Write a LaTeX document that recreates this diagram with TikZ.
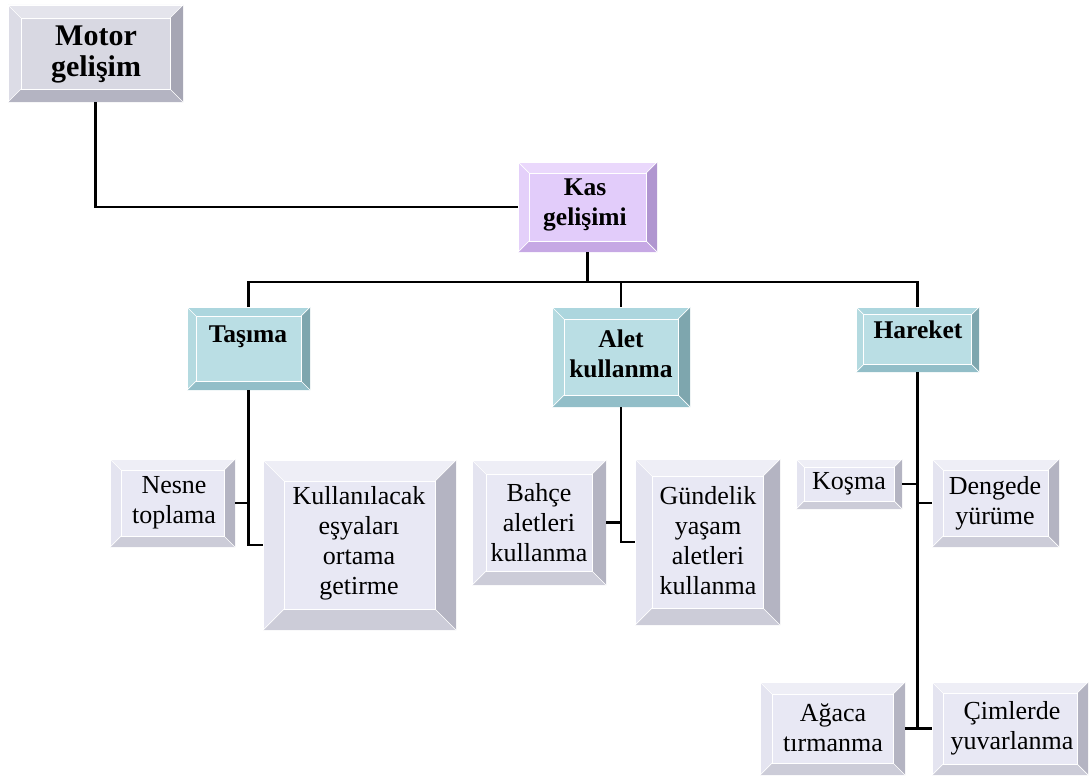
\documentclass[tikz,border=0pt]{standalone}
\usepackage{fontspec}
\setmainfont{Liberation Serif}
\usetikzlibrary{calc}
% grey (Motor)
\definecolor{gF}{RGB}{216,216,226}
\definecolor{gT}{RGB}{228,228,236}
\definecolor{gL}{RGB}{220,220,230}
\definecolor{gR}{RGB}{166,166,180}
\definecolor{gB}{RGB}{180,180,194}
% light
\definecolor{lF}{RGB}{232,232,244}
\definecolor{lT}{RGB}{238,238,246}
\definecolor{lL}{RGB}{228,228,240}
\definecolor{lR}{RGB}{180,180,194}
\definecolor{lB}{RGB}{204,204,216}
% purple
\definecolor{pF}{RGB}{226,204,250}
\definecolor{pT}{RGB}{234,216,252}
\definecolor{pL}{RGB}{228,208,250}
\definecolor{pR}{RGB}{176,150,208}
\definecolor{pB}{RGB}{198,168,228}
% teal
\definecolor{tF}{RGB}{186,222,228}
\definecolor{tT}{RGB}{172,214,222}
\definecolor{tL}{RGB}{180,218,224}
\definecolor{tR}{RGB}{126,166,174}
\definecolor{tB}{RGB}{146,190,200}
\tikzset{
  boxshape/.style={rectangle, inner sep=0pt, outer sep=0pt, draw=none},
  txt/.style={align=center, inner sep=0pt, font=\fontsize{26}{30}\selectfont},
  btxt/.style={align=center, inner sep=0pt, font=\fontsize{25.5}{30}\selectfont\bfseries},
  conn/.style={draw=black, line width=2.2pt},
  edge/.style={draw=white, line width=0.7pt},
}
\newcommand\bevelbox[7]{%
  \node[boxshape, minimum width=#4pt, minimum height=#5pt] (#1) at (#2,#3) {};
  \fill[#7T] (#1.north west) -- (#1.north east) -- ([shift={(-#6pt,-#6pt)}]#1.north east) -- ([shift={(#6pt,-#6pt)}]#1.north west) -- cycle;
  \fill[#7L] (#1.north west) -- ([shift={(#6pt,-#6pt)}]#1.north west) -- ([shift={(#6pt,#6pt)}]#1.south west) -- (#1.south west) -- cycle;
  \fill[#7R] (#1.north east) -- (#1.south east) -- ([shift={(-#6pt,#6pt)}]#1.south east) -- ([shift={(-#6pt,-#6pt)}]#1.north east) -- cycle;
  \fill[#7B] (#1.south west) -- (#1.south east) -- ([shift={(-#6pt,#6pt)}]#1.south east) -- ([shift={(#6pt,#6pt)}]#1.south west) -- cycle;
  \fill[#7F] ([shift={(#6pt,-#6pt)}]#1.north west) rectangle ([shift={(-#6pt,#6pt)}]#1.south east);
  \draw[edge] ([shift={(#6pt,-#6pt)}]#1.north west) rectangle ([shift={(-#6pt,#6pt)}]#1.south east);
  \draw[edge] (#1.north west) -- ([shift={(#6pt,-#6pt)}]#1.north west);
  \draw[edge] (#1.north east) -- ([shift={(-#6pt,-#6pt)}]#1.north east);
  \draw[edge] (#1.south west) -- ([shift={(#6pt,#6pt)}]#1.south west);
  \draw[edge] (#1.south east) -- ([shift={(-#6pt,#6pt)}]#1.south east);
  \draw[edge] (#1.south west) -- (#1.north west) -- (#1.north east);
}
\begin{document}
\begin{tikzpicture}[x=1pt, y=-1pt]
\useasboundingbox (0,0) rectangle (1089,776);
% boxes: name, cx, cy, w, h, bevel, scheme
\bevelbox{motor}{95.5}{53.5}{175}{97}{13}{g}
\bevelbox{kas}{587.5}{207}{139}{90}{11}{p}
\bevelbox{tasima}{248.5}{348.5}{123}{83}{9}{t}
\bevelbox{alet}{621}{357}{138}{100}{12}{t}
\bevelbox{hareket}{917.5}{339.5}{123}{65}{7.5}{t}
\bevelbox{nesne}{172.5}{503}{125}{88}{11}{l}
\bevelbox{kull}{359.5}{545}{193}{170}{21}{l}
\bevelbox{bahce}{539}{522.5}{134}{125}{14}{l}
\bevelbox{gund}{707.5}{542}{145}{166}{17}{l}
\bevelbox{kosma}{849}{484}{106}{50}{8}{l}
\bevelbox{dengede}{995.5}{503}{127}{88}{11}{l}
\bevelbox{agaca}{832.5}{728.5}{145}{93}{12}{l}
\bevelbox{cim}{1010}{728.5}{156}{93}{11}{l}
% texts
\node[btxt, font=\fontsize{30}{31}\selectfont\bfseries] (motor-t) at (96,54) {Motor\\gelişim};
\node[btxt] (kas-t) at (585,205) {Kas\\gelişimi};
\node[btxt] (tasima-t) at (248,337) {Taşıma};
\node[btxt] (alet-t) at (621,354) {Alet\\kullanma};
\node[btxt] (hareket-t) at (918,330) {Hareket};
\node[txt] (nesne-t) at (174,503) {Nesne\\toplama};
\node[txt] (kull-t) at (359,543) {Kullanılacak\\eşyaları\\ortama\\getirme};
\node[txt] (bahce-t) at (539,523) {Bahçe\\aletleri\\kullanma};
\node[txt] (gund-t) at (708,541) {Gündelik\\yaşam\\aletleri\\kullanma};
\node[txt] (kosma-t) at (849,484) {Koşma};
\node[txt] (dengede-t) at (995,503) {Dengede\\yürüme};
\node[txt] (agaca-t) at (833,728) {Ağaca\\tırmanma};
\node[txt] (cim-t) at (1012,728) {Çimlerde\\yuvarlanma};
% connectors
\coordinate (kb) at (587.5,282);
\draw[conn] (motor.south) |- (kas.west);
\draw[conn] (kas.south) -- (kb);
\draw[conn] (tasima.north) |- (kb) -| (hareket.north);
\draw[conn] (alet.north) -- (alet.north |- kb);
\draw[conn] (tasima.south) |- (kull.west);
\draw[conn] (nesne.east) -- (nesne.east -| tasima.south);
\draw[conn] (alet.south) |- (gund.west);
\draw[conn] (bahce.east) -- (bahce.east -| alet.south);
\draw[conn] (hareket.south) |- (cim.west);
\draw[conn] (kosma.east) -- (kosma.east -| hareket.south);
\draw[conn] (dengede.west) -- (dengede.west -| hareket.south);
\draw[conn] (agaca.east) -- (agaca.east -| hareket.south);
\end{tikzpicture}
\end{document}
